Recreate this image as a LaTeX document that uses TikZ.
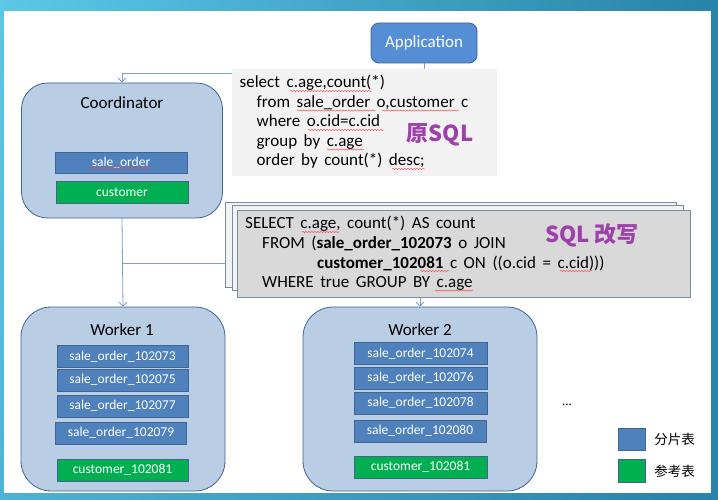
\documentclass[tikz,border=0pt]{standalone}
\usepackage{fontspec}
\setmainfont{Carlito}
\newfontfamily\sqlfont{Carlito}[WordSpace=1.7]
\newfontfamily\cjk{Noto Sans CJK SC}
\usetikzlibrary{arrows,arrows.meta,positioning,shadings,decorations.pathmorphing}

\definecolor{FrameLight}{RGB}{92,200,230}
\definecolor{FrameDark}{RGB}{40,130,170}
\definecolor{ServerFill}{RGB}{185,205,229}
\definecolor{ServerLine}{RGB}{65,100,145}
\definecolor{ShardFill}{RGB}{79,129,189}
\definecolor{RefFill}{RGB}{0,176,80}
\definecolor{AppFill}{RGB}{85,142,213}
\definecolor{LinkBlue}{RGB}{125,160,205}
\definecolor{SqlLight}{RGB}{242,242,242}
\definecolor{SqlDark}{RGB}{217,217,217}
\definecolor{SqlLine}{RGB}{125,140,165}
\definecolor{SqlPurple}{RGB}{158,64,172}

\begin{document}
\begin{tikzpicture}
    [
        x=1pt, y=-1pt,
        Server/.style={rectangle,rounded corners=26pt,draw=ServerLine,fill=ServerFill,thick},
        Title/.style={font=\fontsize{17}{20}\selectfont, inner sep=0pt},
        Table/.style={rectangle,minimum width=132pt,minimum height=22pt,draw=ServerLine,
                      text=white,font=\fontsize{13.5}{16}\selectfont,inner sep=0pt},
        ShardTable/.style={Table,fill=ShardFill},
        RefTable/.style={Table,fill=RefFill},
        SqlLine/.style={anchor=base west,inner sep=0pt,font=\sqlfont\fontsize{17}{20}\selectfont},
        SqlPage/.style={rectangle,draw=SqlLine,fill=SqlLight,minimum width=451pt,minimum height=85pt},
        Tag/.style={text=SqlPurple,inner sep=0pt,font=\cjk\bfseries\fontsize{22}{26}\selectfont},
        Link/.style={draw=LinkBlue,thick,-{Straight Barb[length=4pt,width=8pt]}},
        Squiggle/.style={draw=red!75,line width=0.4pt,
                         decorate,decoration={snake,amplitude=0.6pt,segment length=3pt}},
        LegendText/.style={font=\cjk\fontsize{13.5}{16}\selectfont,inner sep=0pt}
    ]

    % frame
    \shade[upper left=FrameLight, lower left=FrameLight!70!FrameDark,
           upper right=FrameDark, lower right=FrameDark] (0,0) rectangle (718,500);
    \fill[white] (4,11) rectangle (711,493);

    % servers
    \node[rectangle,rounded corners=8pt,draw=ServerLine,fill=AppFill,thick,
          minimum width=106pt,minimum height=40pt,text=white,
          font=\fontsize{17}{20}\selectfont] (Application) at (424,43) {Application};
    \node[Server,minimum width=201pt,minimum height=135pt] (Coordinator) at (122,150.5) {};
    \node[Server,rounded corners=30pt,minimum width=204pt,minimum height=184pt] (Worker1) at (123,399) {};
    \node[Server,rounded corners=30pt,minimum width=234pt,minimum height=184pt] (Worker2) at (420,399) {};
    \coordinate (Split) at (122,263);

    % connectors
    \draw[Link] (Application.south) -- ++(0,10) -| (Coordinator.north);
    \draw[Link] (Coordinator.south) -- (Worker1.north);
    \draw[Link] (Split) -| (Worker2.north);

    % coordinator
    \node[Title] (coordinator_title) at (122,103) {Coordinator};
    \node[ShardTable,minimum height=21pt] (sale_order) at (121,162.5) {sale\_order};
    \node[RefTable] (customer) at (122,192) {customer};

    % worker 1
    \node[Title] (worker1_title) at (122,330) {Worker 1};
    \node[ShardTable,minimum width=131pt] (sale_order_102073) at (122.5,356.5) {sale\_order\_102073};
    \node[ShardTable,minimum width=131pt] (sale_order_102075) at (122.5,380) {sale\_order\_102075};
    \node[ShardTable,minimum width=131pt] (sale_order_102077) at (122.5,406) {sale\_order\_102077};
    \node[ShardTable,minimum width=131pt] (sale_order_102079) at (121,433) {sale\_order\_102079};
    \node[RefTable,minimum width=131pt] (customer_102081_w1) at (122.5,470) {customer\_102081};

    % worker 2
    \node[Title] (worker2_title) at (420,330) {Worker 2};
    \node[ShardTable,minimum width=133pt] (sale_order_102074) at (420.5,353.5) {sale\_order\_102074};
    \node[ShardTable,minimum width=133pt] (sale_order_102076) at (420.5,378) {sale\_order\_102076};
    \node[ShardTable,minimum width=133pt] (sale_order_102078) at (420.5,403) {sale\_order\_102078};
    \node[ShardTable,minimum width=132pt] (sale_order_102080) at (420,431) {sale\_order\_102080};
    \node[RefTable,minimum width=133pt] (customer_102081_w2) at (420.5,467) {customer\_102081};

    \node[font=\fontsize{13}{16}\selectfont,inner sep=0pt] (more_workers) at (567,405) {...};

    % original sql
    \node[rectangle,fill=SqlLight,minimum width=265pt,minimum height=107pt] (sql_original) at (364.5,122.5) {};
    \node[SqlLine] (sql_select) at (239.5,88) {select c.age,count(*)};
    \node[SqlLine] (sql_from) at (256.5,107.5) {from sale\_order o,customer c};
    \node[SqlLine] (sql_where) at (256.5,127) {where o.cid=c.cid};
    \node[SqlLine] (sql_group) at (256.5,146.5) {group by c.age};
    \node[SqlLine] (sql_order) at (256.5,166) {order by count(*) desc;};
    \node[Tag] (tag_original) at (440,135) {原SQL};

    % rewritten sql
    \node[SqlPage] (sql_page3) at (450.5,244.5) {};
    \node[SqlPage] (sql_page2) at (457.5,247.5) {};
    \node[SqlPage,fill=SqlDark,minimum width=453pt,minimum height=87pt] (sql_rewritten) at (463.5,253.5) {};
    \node[SqlLine] (rw_select) at (245,229) {SELECT c.age, count(*) AS count};
    \node[SqlLine] (rw_from) at (262,248.5) {FROM (\textbf{sale\_order\_102073} o JOIN};
    \node[SqlLine] (rw_join) at (317,268) {\textbf{customer\_102081} c ON ((o.cid = c.cid)))};
    \node[SqlLine] (rw_where) at (262,287.5) {WHERE true GROUP BY c.age};
    \node[Tag] (tag_rewritten) at (592,235) {SQL 改写};

    % spell check marks
    \draw[Squiggle] (290,91) -- (372,91);
    \draw[Squiggle] (297,110.5) -- (376,110.5);
    \draw[Squiggle] (382,110.5) -- (459,110.5);
    \draw[Squiggle] (308,130) -- (384,130);
    \draw[Squiggle] (327,149.5) -- (364,149.5);
    \draw[Squiggle] (392,169) -- (425,169);
    \draw[Squiggle] (89,168) -- (152,168);
    \draw[Squiggle] (302,232) -- (339,232);
    \draw[Squiggle] (420,271) -- (449,271);
    \draw[Squiggle] (560,271) -- (593,271);
    \draw[Squiggle] (435,290.5) -- (473,290.5);

    % legend
    \node[rectangle,draw=ServerLine,fill=ShardFill,minimum width=27pt,minimum height=22pt] (legend_shard) at (631.5,439) {};
    \node[LegendText,right=9pt of legend_shard] (legend_shard_text) {分片表};
    \node[rectangle,draw=ServerLine,fill=RefFill,minimum width=27pt,minimum height=23pt] (legend_ref) at (631.5,471) {};
    \node[LegendText,right=9pt of legend_ref] (legend_ref_text) {参考表};
\end{tikzpicture}
\end{document}
